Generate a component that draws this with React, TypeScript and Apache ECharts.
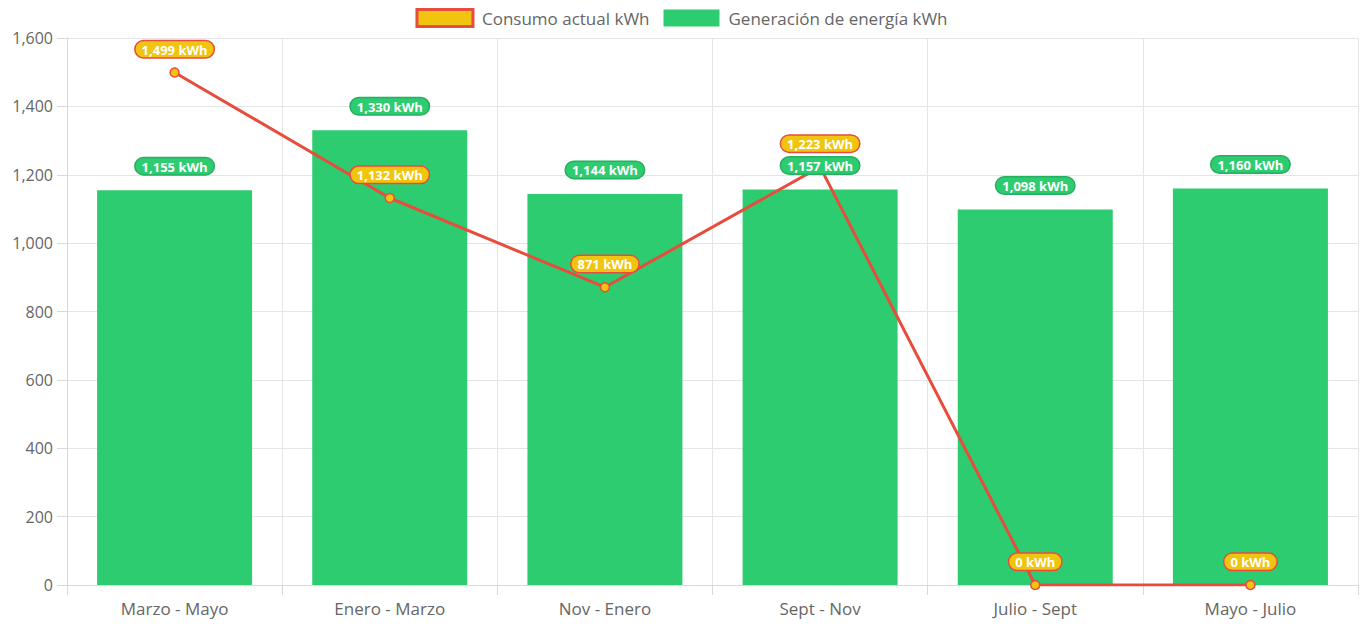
import React, { useEffect, useRef } from "react";
import * as echarts from "echarts";

const categories = ["Marzo - Mayo", "Enero - Marzo", "Nov - Enero", "Sept - Nov", "Julio - Sept", "Mayo - Julio"];
const consumo = [1499, 1132, 871, 1223, 0, 0];
const generacion = [1155, 1330, 1144, 1157, 1098, 1160];

const FONT = "'Open Sans', Lato, sans-serif";
const fmt = (v: number) => v.toLocaleString("en-US");

const pill = (bg: string, border: string) => ({
  show: true,
  position: "top",
  formatter: (p: any) => fmt(Array.isArray(p.value) ? p.value[1] : p.value) + " kWh",
  color: "#fff",
  fontWeight: "bold",
  fontSize: 13,
  fontFamily: FONT,
  backgroundColor: bg,
  borderColor: border,
  borderWidth: 1.5,
  borderRadius: 9,
  padding: [2, 6, 1, 6],
});

export default function App() {
  const ref = useRef<HTMLDivElement>(null);
  useEffect(() => {
    const chart = echarts.init(ref.current!, null, { renderer: "svg" });
    chart.setOption({
      animation: false,
      textStyle: { fontFamily: FONT },
      legend: {
        top: 3,
        left: "center",
        itemWidth: 56,
        itemHeight: 17,
        itemGap: 14,
        textStyle: { color: "#666", fontSize: 17, fontFamily: FONT, padding: [0, 0, 0, 4] },
        data: [
          { name: "Consumo actual kWh", icon: "rect", itemStyle: { color: "#f1c40f", borderColor: "#e74c3c", borderWidth: 3 } },
          { name: "Generación de energía kWh", icon: "rect", itemStyle: { color: "#2ecc71", borderWidth: 0 } },
        ],
      },
      grid: { left: 67, right: 5, top: 38, bottom: 39, containLabel: false },
      xAxis: {
        type: "category",
        data: categories,
        boundaryGap: true,
        axisLine: { lineStyle: { color: "#d9d9d9" } },
        axisTick: { show: true, length: 10, lineStyle: { color: "#d9d9d9" } },
        splitLine: { show: true, lineStyle: { color: "#e5e5e5" } },
        axisLabel: { color: "#666", fontSize: 17, margin: 15, fontFamily: FONT },
      },
      yAxis: {
        type: "value",
        min: 0,
        max: 1600,
        interval: 200,
        axisLine: { show: true, lineStyle: { color: "#d9d9d9" } },
        axisTick: { show: true, length: 10, lineStyle: { color: "#d9d9d9" } },
        splitLine: { lineStyle: { color: "#e5e5e5" } },
        axisLabel: { color: "#666", fontSize: 16, margin: 14, formatter: (v: number) => fmt(v), fontFamily: FONT },
      },
      series: [
        {
          name: "Generación de energía kWh",
          type: "bar",
          data: generacion,
          barWidth: 155,
          z: 2,
          itemStyle: { color: "#2ecc71" },
        },
        {
          name: "Consumo actual kWh",
          type: "line",
          data: consumo,
          z: 5,
          symbol: "circle",
          symbolSize: 9,
          lineStyle: { color: "#e74c3c", width: 3 },
          itemStyle: { color: "#f1c40f", borderColor: "#e74c3c", borderWidth: 1.5 },
          label: { ...pill("#f1c40f", "#e74c3c"), distance: 10 },
        },
        {
          name: "generacion-labels",
          type: "scatter",
          data: generacion.map((v, i) => [categories[i], v]),
          symbolSize: 0,
          z: 10,
          silent: true,
          itemStyle: { color: "rgba(0,0,0,0)", opacity: 1 },
          label: { ...pill("#2ecc71", "#27ae60"), distance: 16 },
        },
      ],
    });
    return () => chart.dispose();
  }, []);
  return <div ref={ref} style={{ position: "absolute", left: 0, top: 0, width: 1363, height: 624 }} />;
}
